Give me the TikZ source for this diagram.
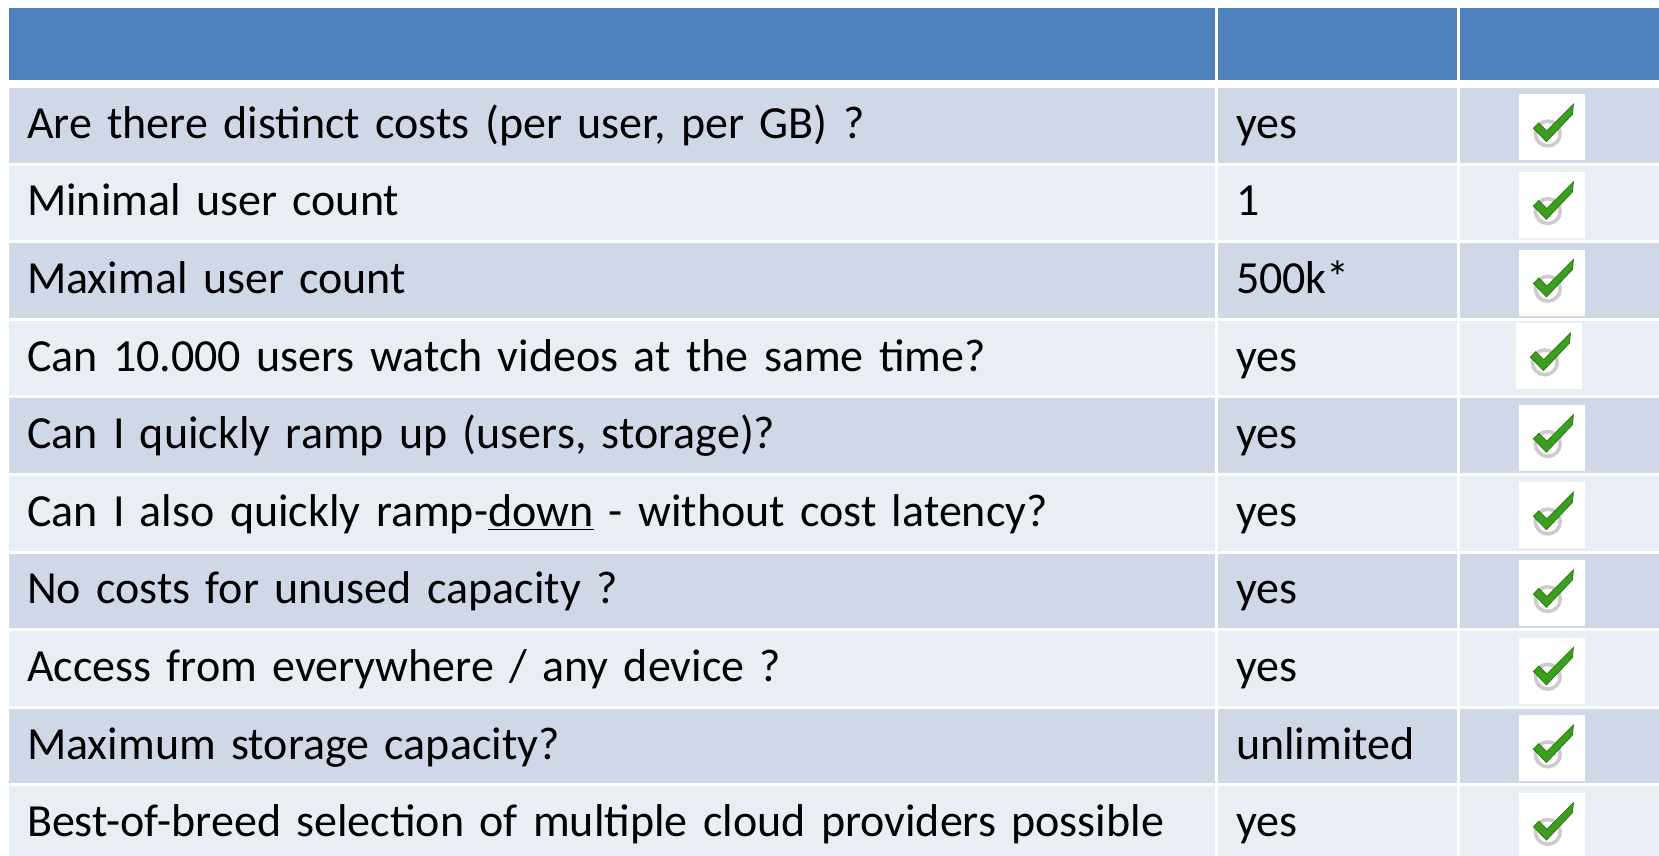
\documentclass[tikz,border=0pt]{standalone}
\usepackage{fontspec}
\setmainfont{Carlito}
\usetikzlibrary{positioning}

\definecolor{headblue}{HTML}{4F81BD}
\definecolor{rowdark}{HTML}{D0D8E8}
\definecolor{rowlight}{HTML}{E9EDF4}
\definecolor{tickgreen}{HTML}{3C9E1E}
\definecolor{tickedge}{HTML}{2B7A12}

\begin{document}
\begin{tikzpicture}[font=\fontsize{23}{27}\selectfont, node distance = 1.5pt,
	cell/.style = { rectangle, inner xsep=9pt, inner ysep=0pt, outer sep=0pt,
	minimum height=37.3pt, text height=15pt, text depth=2pt },
	head/.style = { cell, fill=headblue, minimum height=36pt },
	dark/.style = { fill=rowdark }, light/.style = { fill=rowlight },
	wide/.style = { cell, text width=585pt, align=left },
	mid/.style = { cell, text width=101.5pt, align=left },
	narrow/.style = { cell, minimum width=110pt },
	tickbox/.style = { rectangle, fill=white, inner sep=0pt, minimum size=33pt },
	pics/tick/.style = { code = {
	  \draw [gray!40, line width=1.8pt] (-2.3pt,-3.1pt) circle (6.2pt);
	  \filldraw [fill=tickgreen, draw=tickedge, line width=0.4pt]
	    (-9.5pt,-0.5pt) -- (-6.8pt,2.2pt) -- (-2.8pt,-1.8pt) -- (10.5pt,11.5pt)
	    -- (10pt,6.5pt) -- (-3pt,-7.2pt) -- cycle; } } ]

  \useasboundingbox (0,0) rectangle (829.5pt,-428pt);

  % header
  \node [name=h1, head, minimum width=603pt, anchor=north west] at (4.5pt,-4pt) {};
  \node [name=h2, head, minimum width=119.5pt, right=of h1] {};
  \node [name=h3, head, minimum width=110pt, right=of h2] {};

  % rows
  \node [name=r1a, wide, dark, below=4pt of h1] { Are there distinct costs (per user, per GB) ? };
  \node [name=r1b, mid, dark, right=of r1a] { yes };
  \node [name=r1c, narrow, dark, right=of r1b] {};

  \node [name=r2a, wide, light, below=of r1a] { Minimal user count };
  \node [name=r2b, mid, light, right=of r2a] { 1 };
  \node [name=r2c, narrow, light, right=of r2b] {};

  \node [name=r3a, wide, dark, below=of r2a] { Maximal user count };
  \node [name=r3b, mid, dark, right=of r3a] { 500k* };
  \node [name=r3c, narrow, dark, right=of r3b] {};

  \node [name=r4a, wide, light, below=of r3a] { Can 10.000 users watch videos at the same time? };
  \node [name=r4b, mid, light, right=of r4a] { yes };
  \node [name=r4c, narrow, light, right=of r4b] {};

  \node [name=r5a, wide, dark, below=of r4a] { Can I quickly ramp up (users, storage)? };
  \node [name=r5b, mid, dark, right=of r5a] { yes };
  \node [name=r5c, narrow, dark, right=of r5b] {};

  \node [name=r6a, wide, light, below=of r5a] { Can I also quickly ramp-\underline{down} - without cost latency? };
  \node [name=r6b, mid, light, right=of r6a] { yes };
  \node [name=r6c, narrow, light, right=of r6b] {};

  \node [name=r7a, wide, dark, below=of r6a] { No costs for unused capacity ? };
  \node [name=r7b, mid, dark, right=of r7a] { yes };
  \node [name=r7c, narrow, dark, right=of r7b] {};

  \node [name=r8a, wide, light, below=of r7a] { Access from everywhere / any device ? };
  \node [name=r8b, mid, light, right=of r8a] { yes };
  \node [name=r8c, narrow, light, right=of r8b] {};

  \node [name=r9a, wide, dark, below=of r8a] { Maximum storage capacity? };
  \node [name=r9b, mid, dark, right=of r9a] { unlimited };
  \node [name=r9c, narrow, dark, right=of r9b] {};

  \node [name=r10a, wide, light, below=of r9a] { Best-of-breed selection of multiple cloud providers possible };
  \node [name=r10b, mid, light, right=of r10a] { yes };
  \node [name=r10c, narrow, light, right=of r10b] {};

  % check marks
  \node [name=t1, tickbox, yshift=-1pt, right=29.5pt of r1c.west] {};
  \node [name=t2, tickbox, yshift=-1pt, right=29.5pt of r2c.west] {};
  \node [name=t3, tickbox, yshift=-1pt, right=29.5pt of r3c.west] {};
  \node [name=t4, tickbox, yshift=1pt, right=28pt of r4c.west] {};
  \node [name=t5, tickbox, yshift=-1pt, right=29.5pt of r5c.west] {};
  \node [name=t6, tickbox, yshift=-1pt, right=29.5pt of r6c.west] {};
  \node [name=t7, tickbox, yshift=-1pt, right=29.5pt of r7c.west] {};
  \node [name=t8, tickbox, yshift=-1pt, right=29.5pt of r8c.west] {};
  \node [name=t9, tickbox, yshift=-1pt, right=29.5pt of r9c.west] {};
  \node [name=t10, tickbox, yshift=-1pt, right=29.5pt of r10c.west] {};
  \pic at (t1) {tick}; \pic at (t2) {tick}; \pic at (t3) {tick};
  \pic at (t4) {tick}; \pic at (t5) {tick}; \pic at (t6) {tick};
  \pic at (t7) {tick}; \pic at (t8) {tick}; \pic at (t9) {tick};
  \pic at (t10) {tick};
\end{tikzpicture}
\end{document}
